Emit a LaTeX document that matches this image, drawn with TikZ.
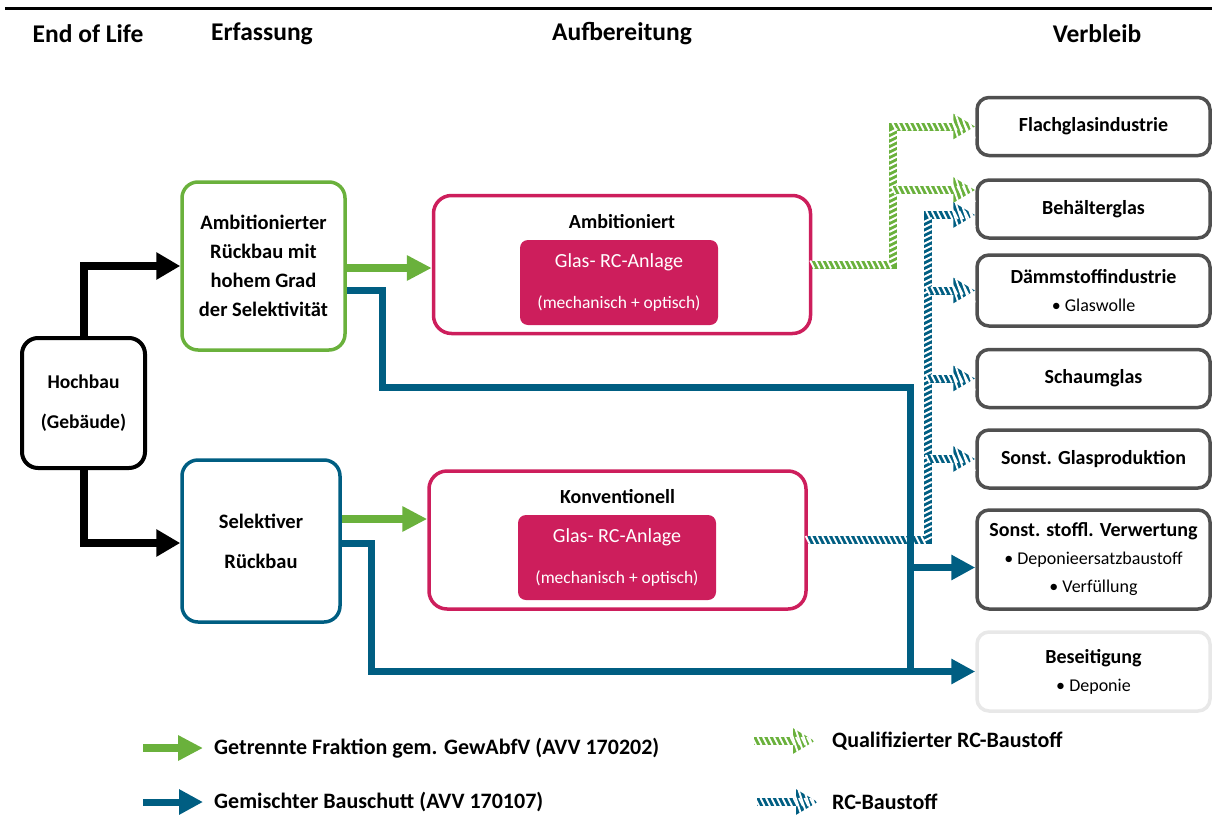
\documentclass[tikz,border=0pt]{standalone}
\usepackage{fontspec}
\setmainfont{Carlito}
\usetikzlibrary{arrows.meta,calc,decorations.markings}

\definecolor{rcgreen}{RGB}{106,177,60}
\definecolor{rcblue}{RGB}{0,94,130}
\definecolor{rcmagenta}{RGB}{205,30,92}
\definecolor{boxgray}{RGB}{80,80,80}
\definecolor{palegray}{RGB}{232,232,232}

\newcommand{\sinkitem}{\mdseries\fontsize{18}{21}\selectfont}

\begin{document}
\begin{tikzpicture}[x=1pt, y=-1pt,
    every node/.style={inner sep=0pt},
    headline/.style={font=\bfseries\fontsize{25.5}{30}\selectfont},
    srcbox/.style={draw=#1, rounded corners=16pt, line width=3.5pt, align=center,
        font=\bfseries\fontsize{20.5}{29}\selectfont},
    plantbox/.style={draw=rcmagenta, rounded corners=18pt, line width=3.5pt,
        minimum width=377pt, minimum height=138pt},
    planttitle/.style={font=\bfseries\fontsize{20}{24}\selectfont},
    plantcore/.style={fill=rcmagenta, rounded corners=8pt, text=white, align=center,
        minimum width=198pt, minimum height=85pt},
    sinkbox/.style={draw=#1, rounded corners=12pt, line width=3.5pt, minimum width=233pt,
        align=center, font=\bfseries\fontsize{20}{28}\selectfont},
    sinkbox/.default=boxgray,
    blackarrow/.style={draw=black, line width=8pt, -{Triangle[length=24pt,width=26pt]}},
    greenarrow/.style={draw=rcgreen, line width=8pt, -{Triangle[length=25pt,width=24pt]}},
    blueline/.style={draw=rcblue, line width=7pt},
    bluearrow/.style={blueline, -{Triangle[length=24pt,width=24pt]}},
    hatched/.style={draw=#1, line width=8pt, -{Triangle[length=22pt,width=24pt]},
        postaction={decorate, decoration={markings,
            mark=between positions 0 and 1 step 5.5pt with
                {\draw[-, white, line width=1.9pt] (-2pt,4pt) -- (2pt,-4pt);},
            mark=between positions -21pt and -3pt step 5.5pt with
                {\draw[-, white, line width=1.9pt] (-4pt,12pt) -- (4pt,-12pt);}}}},
    legendtext/.style={anchor=west, font=\bfseries\fontsize{22}{26}\selectfont}
]
    % Frame
    \useasboundingbox (0,0) rectangle (1215,814);
    \draw[line width=3pt] (5,8) -- (1212,8);

    % Column heads
    \node[headline] (headeol) at (88,34) {End of Life};
    \node[headline] (headerf) at (262,34) {Erfassung};
    \node[headline] (headauf) at (622,34) {Aufbereitung};
    \node[headline] (headver) at (1097,34) {Verbleib};

    % End of Life and Erfassung
    \node[srcbox=black, line width=4pt, minimum width=123pt, minimum height=130pt,
        font=\bfseries\fontsize{19.5}{40}\selectfont] (hochbau) at (83.5,403) {Hochbau\\(Gebäude)};
    \node[srcbox=rcgreen, minimum width=163pt, minimum height=168pt] (ambrueck) at (263.5,266)
        {Ambitionierter\\Rückbau mit\\hohem Grad\\der Selektivität};
    \node[srcbox=rcblue, minimum width=158pt, minimum height=162pt,
        font=\bfseries\fontsize{20.5}{40}\selectfont] (selrueck) at (261,541) {Selektiver\\Rückbau};

    % Aufbereitung
    \node[plantbox] (ambit) at (622,264.5) {};
    \node[planttitle] (ambittitle) at (622,222) {Ambitioniert};
    \node[plantcore] (ambitcore) at (619,282.5)
        {{\fontsize{20}{24}\selectfont Glas- RC-Anlage}\\[23pt]{\fontsize{17.5}{20}\selectfont (mechanisch + optisch)}};
    \node[plantbox] (konv) at (617.5,540) {};
    \node[planttitle] (konvtitle) at (617.5,497) {Konventionell};
    \node[plantcore] (konvcore) at (617,557.5)
        {{\fontsize{20}{24}\selectfont Glas- RC-Anlage}\\[23pt]{\fontsize{17.5}{20}\selectfont (mechanisch + optisch)}};

    % Verbleib
    \node[sinkbox, minimum height=58pt] (flach) at (1093.5,126.5) {Flachglasindustrie};
    \node[sinkbox, minimum height=58pt] (behaelter) at (1093.5,209) {Behälterglas};
    \node[sinkbox, minimum height=71pt] (daemm) at (1093.5,290.5)
        {Dämmstoffindustrie\\{\sinkitem • Glaswolle}};
    \node[sinkbox, minimum height=58pt] (schaum) at (1093.5,378.5) {Schaumglas};
    \node[sinkbox, minimum height=58pt] (glasprod) at (1093.5,459) {Sonst. Glasproduktion};
    \node[sinkbox, minimum height=99pt] (stoffl) at (1093.5,559.5)
        {Sonst. stoffl. Verwertung\\{\sinkitem • Deponieersatzbaustoff}\\{\sinkitem • Verfüllung}};
    \node[sinkbox=palegray, minimum height=79pt] (beseit) at (1093.5,671.5)
        {Beseitigung\\{\sinkitem • Deponie}};

    % Hochbau to Erfassung
    \draw[blackarrow] (hochbau.north) |- (ambrueck.west);
    \draw[blackarrow] (hochbau.south) |- ($(selrueck.west)+(0,2)$);

    % Separated fraction
    \draw[greenarrow] ($(ambrueck.east)+(0,2)$) -- ($(ambrueck.east -| ambit.west)+(0,2)$);
    \draw[greenarrow] ($(selrueck.east)+(0,-22)$) -- ($(selrueck.east -| konv.west)+(0,-22)$);

    % Qualified RC material
    \draw[hatched=rcgreen] (ambit.east) -- ++(81,0) coordinate (greenup) |- (flach.west);
    \coordinate (greenbranch) at ($(behaelter.west)+(0,-19)$);
    \draw[hatched=rcgreen] (greenup |- greenbranch) -- (greenbranch);

    % RC material
    \coordinate (bluebranch) at ($(behaelter.west)+(0,6)$);
    \draw[hatched=rcblue] (konv.east) -- ++(120,0) coordinate (blueup) |- (bluebranch);
    \foreach \sink in {daemm,schaum,glasprod} {
        \draw[hatched=rcblue] (blueup |- \sink.west) -- (\sink.west);
    }

    % Mixed rubble
    \coordinate (bluebend) at (910,387);
    \coordinate (bluejoin) at (910,671);
    \draw[blueline] ($(ambrueck.east)+(0,24)$) -- ++(36,0) |- (bluebend) -- (bluejoin);
    \draw[bluearrow] ($(selrueck.east)+(0,2)$) -- ++(30,0) |- (beseit.west);
    \draw[bluearrow] ($(bluejoin |- stoffl.west)+(0,8)$) -- ($(stoffl.west)+(0,8)$);

    % Legend
    \node[legendtext] (leggreen) at (214,748) {Getrennte Fraktion gem. GewAbfV (AVV 170202)};
    \node[legendtext] (legblue) at (214,802) {Gemischter Bauschutt (AVV 170107)};
    \node[legendtext] (legqual) at (832,741) {Qualifizierter RC-Baustoff};
    \node[legendtext] (legrc) at (832,802) {RC-Baustoff};
    \draw[greenarrow] ($(leggreen.west)+(-71,0)$) -- ($(leggreen.west)+(-11,0)$);
    \draw[bluearrow] ($(legblue.west)+(-71,0)$) -- ($(legblue.west)+(-11,0)$);
    \draw[hatched=rcgreen] ($(legqual.west)+(-78,0)$) -- ($(legqual.west)+(-17,0)$);
    \draw[hatched=rcblue] ($(legrc.west)+(-75,0)$) -- ($(legrc.west)+(-14,0)$);
\end{tikzpicture}
\end{document}
